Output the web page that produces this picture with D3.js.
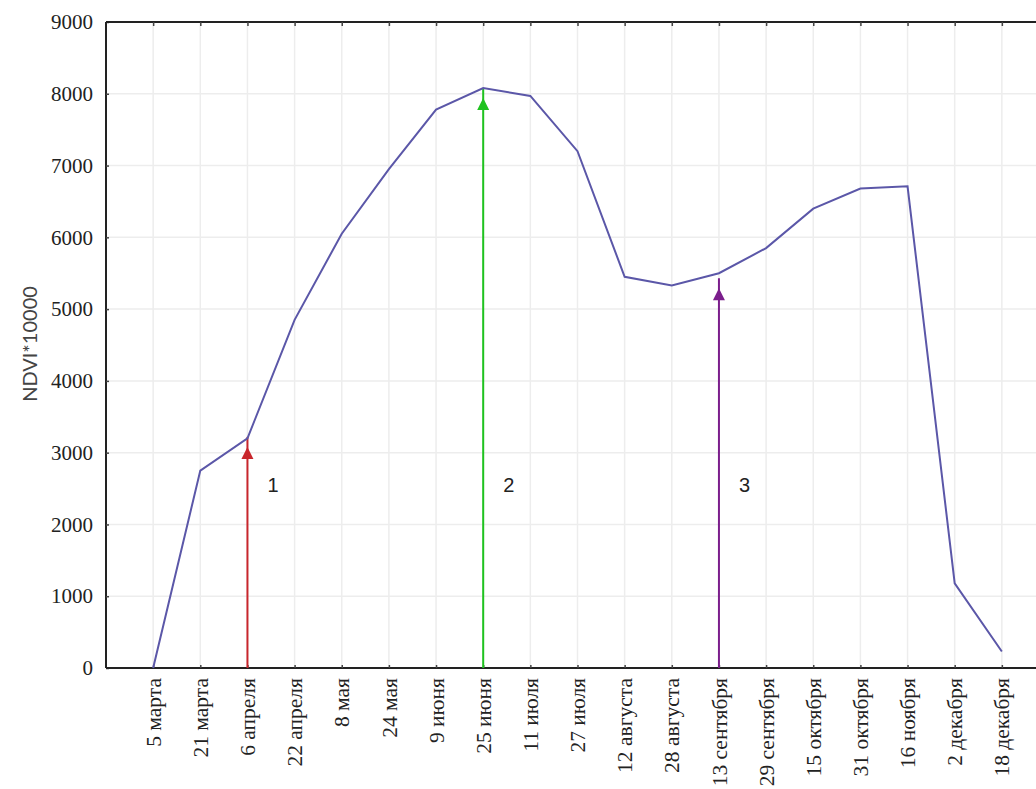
<!DOCTYPE html>
<html>
<head>
<meta charset="utf-8">
<script src="https://cdn.jsdelivr.net/npm/d3@7"></script>
<style>
  body { margin: 0; background: #fff; }
  svg { display: block; }
</style>
</head>
<body>
<div id="chart"></div>
<script>
// dates of the NDVI composites
var dates = ["5 марта", "21 марта", "6 апреля", "22 апреля", "8 мая", "24 мая",
  "9 июня", "25 июня", "11 июля", "27 июля", "12 августа", "28 августа",
  "13 сентября", "29 сентября", "15 октября", "31 октября", "16 ноября",
  "2 декабря", "18 декабря"];
// NDVI*10000
var ndvi = [0, 2750, 3200, 4850, 6050, 6950, 7780, 8080, 7970, 7200, 5450,
  5330, 5500, 5850, 6400, 6680, 6710, 1180, 230];
var yTicks = [0, 1000, 2000, 3000, 4000, 5000, 6000, 7000, 8000, 9000];
// arrows: date, height, label
var arrowDates = ["6 апреля", "25 июня", "13 сентября"];
var arrowValues = [3220, 8080, 5430];
var arrowLabels = ["1", "2", "3"];
var arrowColors = ["#c8262c", "#1fc21f", "#7b1e8c"];

var W = 1036, H = 789;
// plot box (right side runs past the picture edge)
var pLeft = 106, pTop = 22, pBottom = 668, pRight = 1049;

var svg = d3.select("#chart").append("svg")
  .attr("width", W)
  .attr("height", H);

var x = d3.scalePoint().domain(dates).range([pLeft, pRight]).padding(1);
var y = d3.scaleLinear().domain([0, 9000]).range([pBottom, pTop]);

//grid
svg.append("g").selectAll("line")
  .data(dates).enter().append("line")
  .attr("x1", function (d) { return x(d); })
  .attr("x2", function (d) { return x(d); })
  .attr("y1", pTop).attr("y2", pBottom)
  .style("stroke", "#ededed").style("stroke-width", 1.5);
svg.append("g").selectAll("line")
  .data(yTicks.slice(1, -1)).enter().append("line")
  .attr("x1", pLeft).attr("x2", pRight)
  .attr("y1", function (d) { return y(d); })
  .attr("y2", function (d) { return y(d); })
  .style("stroke", "#ededed").style("stroke-width", 1.5);

//axes
var yAxis = svg.append("g")
  .attr("transform", "translate(" + pLeft + ",0)")
  .call(d3.axisLeft(y).tickValues(yTicks).tickFormat(d3.format("d"))
    .tickSize(-3).tickPadding(13).tickSizeOuter(0));
yAxis.selectAll("text")
  .style("font-family", "Liberation Serif, serif")
  .style("font-size", "21px")
  .style("fill", "#222");

var xAxis = svg.append("g")
  .attr("transform", "translate(0," + pBottom + ")")
  .call(d3.axisBottom(x).tickSize(-3).tickSizeOuter(0));
xAxis.selectAll("text")
  .attr("transform", "rotate(-90)")
  .attr("x", -10)
  .attr("y", 0)
  .attr("dy", "0.33em")
  .style("text-anchor", "end")
  .style("font-family", "Liberation Serif, serif")
  .style("font-size", "21.5px")
  .style("fill", "#222");

var topAxis = svg.append("g")
  .attr("transform", "translate(0," + pTop + ")")
  .call(d3.axisTop(x).tickSize(-4).tickFormat("").tickSizeOuter(0));

svg.selectAll(".domain").style("stroke", "#222").style("stroke-width", 2);
svg.selectAll(".tick line").style("stroke", "#444").style("stroke-width", 1.5);
yAxis.select(".domain").attr("d", "M0," + pTop + "V" + pBottom);
xAxis.select(".domain").attr("d", "M" + pLeft + ",0H" + pRight);
topAxis.select(".domain").attr("d", "M" + pLeft + ",0H" + pRight);

//y label
svg.append("text")
  .attr("transform", "translate(30,344) rotate(-90)")
  .attr("dy", "0.35em")
  .style("text-anchor", "middle")
  .style("font-family", "Lato, sans-serif")
  .style("font-size", "20px")
  .style("fill", "#444")
  .text("NDVI*10000");

//arrows
arrowDates.forEach(function (d, i) {
  var ax = x(d), ay = y(arrowValues[i]);
  svg.append("line")
    .attr("x1", ax).attr("x2", ax)
    .attr("y1", pBottom).attr("y2", ay)
    .style("stroke", arrowColors[i]).style("stroke-width", 2);
  svg.append("path")
    .attr("d", "M" + ax + "," + (ay + 10) + "L" + (ax + 6) + "," + (ay + 22) +
      "L" + (ax - 6) + "," + (ay + 22) + "Z")
    .style("fill", arrowColors[i]);
  svg.append("text")
    .attr("x", ax + 20).attr("y", 492)
    .style("font-family", "Liberation Sans, Arial, sans-serif")
    .style("font-size", "20px")
    .style("fill", "#222")
    .text(arrowLabels[i]);
});

//NDVI curve
var line = d3.line()
  .x(function (d, i) { return x(dates[i]); })
  .y(function (d) { return y(d); });
svg.append("path")
  .datum(ndvi)
  .attr("d", line)
  .style("fill", "none")
  .style("stroke", "#5b57a8")
  .style("stroke-width", 2);
</script>
</body>
</html>
